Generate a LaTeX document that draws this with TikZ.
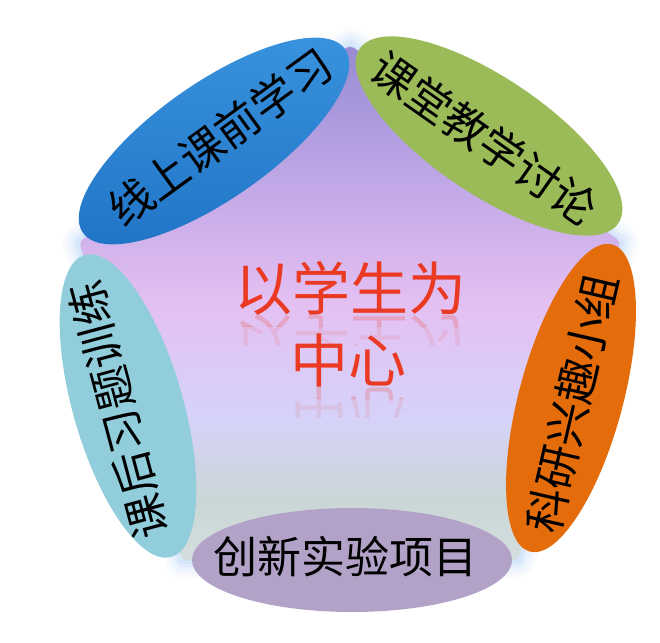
\documentclass[tikz,border=0pt]{standalone}
\usepackage{fontspec}
\newfontfamily\cjk{Noto Sans CJK SC}
\usetikzlibrary{shapes.geometric}
\definecolor{cblue}{RGB}{34,118,200}
\definecolor{cblueL}{RGB}{58,148,222}
\definecolor{cgreen}{RGB}{155,187,89}
\definecolor{corange}{RGB}{228,108,10}
\definecolor{caqua}{RGB}{146,205,220}
\definecolor{cpurple}{RGB}{178,162,199}
\definecolor{cred}{RGB}{234,58,36}
\definecolor{glowc}{RGB}{140,185,250}
\definecolor{sa}{RGB}{150,138,210}
\definecolor{sb}{RGB}{182,160,226}
\definecolor{sc}{RGB}{228,192,242}
\definecolor{sd}{RGB}{214,210,250}
\definecolor{se}{RGB}{202,214,214}
\definecolor{sf}{RGB}{212,222,222}
\pgfdeclareverticalshading{pentshade}{100bp}{color(0bp)=(sf); color(25bp)=(sf); color(31bp)=(se); color(39bp)=(sd); color(50bp)=(sc); color(65bp)=(sb); color(75bp)=(sa); color(100bp)=(sa)}
\begin{document}
\begin{tikzpicture}[x=1pt,y=1pt,
  pill/.style={ellipse, inner sep=0pt, draw=none},
  lbl/.style={font=\cjk\fontsize{44}{44}\selectfont, text=black, inner sep=0pt},
  ctr/.style={font=\cjk\fontsize{58}{58}\selectfont, text=cred, inner sep=0pt},
  refl/.style={ctr, yscale=-1}]
\useasboundingbox (0,0) rectangle (660,642);
\fill[white] (0,0) rectangle (660,642);
% pentagon corners
\coordinate (p1) at (350,597);
\coordinate (p2) at (621,400);
\coordinate (p3) at (517.5,81.4);
\coordinate (p4) at (182.5,81.4);
\coordinate (p5) at (79,400);
% glow
\foreach \w/\o in {34/0.05, 27/0.06, 20/0.08, 13/0.1, 7/0.12}
  \draw[glowc, line width=\w pt, opacity=\o, line join=round] (p1)--(p2)--(p3)--(p4)--(p5)--cycle;
% pentagon body
\shade[shading=pentshade, rounded corners=5pt] (p1)--(p2)--(p3)--(p4)--(p5)--cycle;
% centre text with reflection
\begin{scope}
  \clip (200,315) rectangle (500,327);
  \node[refl, opacity=0.22] (r1a) at (350,300) {以学生为};
\end{scope}
\begin{scope}
  \clip (200,296) rectangle (500,315);
  \node[refl, opacity=0.10] (r1b) at (350,300) {以学生为};
\end{scope}
\begin{scope}
  \clip (250,243) rectangle (450,255);
  \node[refl, opacity=0.22] (r2a) at (348,228) {中心};
\end{scope}
\begin{scope}
  \clip (250,224) rectangle (450,243);
  \node[refl, opacity=0.10] (r2b) at (348,228) {中心};
\end{scope}
\node[ctr] (c1) at (350,354) {以学生为};
\node[ctr] (c2) at (348,282) {中心};
% ellipses
\node[pill, minimum width=320pt, minimum height=116pt, rotate=35,
  top color=cblueL, bottom color=cblue] (e1) at (214,501) {};
\node[pill, minimum width=312pt, minimum height=116pt, rotate=-34, fill=cgreen] (e2) at (489,506) {};
\node[pill, minimum width=318pt, minimum height=104pt, rotate=75, fill=corange] (e3) at (571,244) {};
\node[pill, minimum width=320pt, minimum height=104pt, rotate=0, fill=cpurple] (e4) at (352,82) {};
\node[pill, minimum width=314pt, minimum height=110pt, rotate=106, fill=caqua] (e5) at (128,236) {};
% labels
\node[lbl, rotate=36] (t1) at (220,505) {线上课前学习};
\node[lbl, rotate=-35] (t2) at (484,504) {课堂教学讨论};
\node[lbl, rotate=77] (t3) at (572,239) {科研兴趣小组};
\node[lbl] (t4) at (345,85) {创新实验项目};
\node[lbl, rotate=105] (t5) at (118,232) {课后习题训练};
\end{tikzpicture}
\end{document}
